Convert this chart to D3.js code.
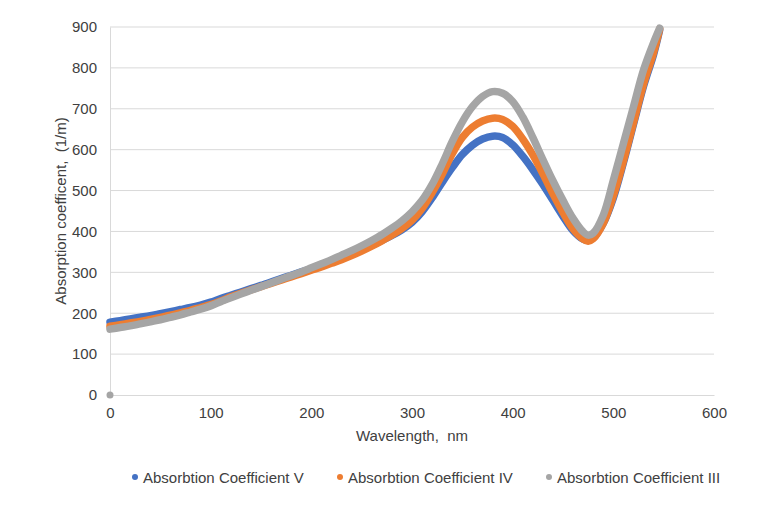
<!DOCTYPE html>
<html>
<head>
<meta charset="utf-8">
<script src="https://cdn.jsdelivr.net/npm/d3@7"></script>
<style>
  body { margin: 0; background: #fff; }
  svg { font-family: "Liberation Sans", Arial, sans-serif; }
  text { white-space: pre; }
</style>
</head>
<body>
<svg id="canvas"></svg>
<script>
// wavelength grid (nm) shared by the three series
const wavelengths = [0, 10, 20, 30, 40, 50, 60, 70, 80, 90, 100, 110, 120, 130, 140, 150, 160, 170, 180, 190,
  200, 210, 220, 230, 240, 250, 260, 270, 280, 290, 300, 310, 320, 330, 340, 350, 360, 370, 380, 390,
  400, 410, 420, 430, 440, 450, 460, 470, 475, 480, 490, 500, 510, 520, 530, 540, 546];

const coefV = [178, 182, 186, 190, 194, 199, 204, 209, 214, 220, 227, 236, 244, 252, 260, 268, 276, 285, 293, 301,
  309, 317, 326, 335, 345, 355, 366, 378, 390, 404, 422, 448, 482, 520, 556, 588, 611, 626, 633, 630,
  612, 584, 551, 515, 476, 437, 402, 381, 378, 384, 420, 482, 568, 662, 755, 833, 892];

const coefIV = [168, 172, 176, 180, 185, 190, 195, 201, 207, 214, 221, 230, 240, 249, 257, 265, 273, 281, 289, 297,
  305, 313, 322, 331, 341, 352, 364, 377, 391, 407, 427, 456, 495, 540, 590, 630, 655, 670, 677, 674,
  657, 626, 587, 541, 492, 446, 406, 381, 376, 382, 420, 487, 572, 666, 760, 838, 895];

const coefIII = [161, 165, 169, 174, 179, 184, 190, 196, 203, 210, 218, 228, 238, 247, 256, 265, 274, 283, 292, 301,
  311, 321, 331, 342, 353, 365, 378, 392, 408, 426, 448, 476, 515, 565, 620, 668, 705, 730, 742, 738,
  718, 680, 630, 576, 524, 476, 432, 399, 391, 396, 440, 525, 615, 705, 795, 862, 897];
// lone point of series III at the origin
const originIII = [[0, 0]];

const seriesNames = ["Absorbtion Coefficient V", "Absorbtion Coefficient IV", "Absorbtion Coefficient III"];
const seriesColors = ["#4472C4", "#ED7D31", "#A5A5A5"];
const xTicks = [0, 100, 200, 300, 400, 500, 600];
const yTicks = [0, 100, 200, 300, 400, 500, 600, 700, 800, 900];

const width = 764, height = 506;
const margin = { left: 110, right: 50, top: 27, bottom: 111 };

const svg = d3.select("#canvas").attr("width", width).attr("height", height);

const xScale = d3.scaleLinear().domain([0, 600]).range([margin.left, width - margin.right]);
const yScale = d3.scaleLinear().domain([0, 900]).range([height - margin.bottom, margin.top]);

// gridlines
svg.append("g")
  .selectAll("line")
  .data(yTicks.slice(1))
  .join("line")
  .attr("x1", xScale(0)).attr("x2", xScale(600))
  .attr("y1", d => yScale(d)).attr("y2", d => yScale(d))
  .attr("stroke", "#d9d9d9").attr("stroke-width", 1);

const xAxis = d3.axisBottom(xScale).tickValues(xTicks).tickSize(0).tickPadding(12);
const yAxis = d3.axisLeft(yScale).tickValues(yTicks).tickSize(0).tickPadding(13);

const gx = svg.append("g").attr("transform", `translate(0, ${yScale(0)})`).call(xAxis);
const gy = svg.append("g").attr("transform", `translate(${xScale(0)}, 0)`).call(yAxis);
[gx, gy].forEach(g => {
  g.select(".domain").attr("stroke", "#d9d9d9");
  g.selectAll("text").attr("font-size", 15).attr("fill", "#404040")
    .attr("font-family", "Liberation Sans, Arial, sans-serif");
});

// series
const allSeries = [coefV, coefIV, coefIII];
const line = d3.line()
  .x(d => xScale(d[0]))
  .y(d => yScale(d[1]))
  .curve(d3.curveCatmullRom);

allSeries.forEach((vals, i) => {
  const pts = wavelengths.map((w, j) => [w, vals[j]]);
  svg.append("path")
    .datum(pts)
    .attr("d", line)
    .attr("fill", "none")
    .attr("stroke", seriesColors[i])
    .attr("stroke-width", 7.5)
    .attr("stroke-linecap", "round")
    .attr("stroke-linejoin", "round");
});

svg.append("g")
  .selectAll("circle")
  .data(originIII)
  .join("circle")
  .attr("cx", d => xScale(d[0]))
  .attr("cy", d => yScale(d[1]))
  .attr("r", 3.5)
  .attr("fill", seriesColors[2]);

// axis titles
svg.append("text")
  .attr("x", 412).attr("y", 441)
  .attr("text-anchor", "middle")
  .attr("font-size", 15).attr("fill", "#404040")
  .text("Wavelength,  nm");

svg.append("text")
  .attr("transform", `translate(66, 211) rotate(-90)`)
  .attr("text-anchor", "middle")
  .attr("font-size", 15).attr("fill", "#404040")
  .text("Absorption coefficent,  (1/m)");

// legend
const legendX = [135, 340, 549];
const legend = svg.append("g")
  .selectAll("g")
  .data(seriesNames)
  .join("g")
  .attr("transform", (d, i) => `translate(${legendX[i]}, 477)`);
legend.append("circle").attr("r", 3).attr("fill", (d, i) => seriesColors[i]);
legend.append("text")
  .attr("x", 8).attr("y", 5.5)
  .attr("font-size", 15).attr("fill", "#404040")
  .text(d => d);
</script>
</body>
</html>
